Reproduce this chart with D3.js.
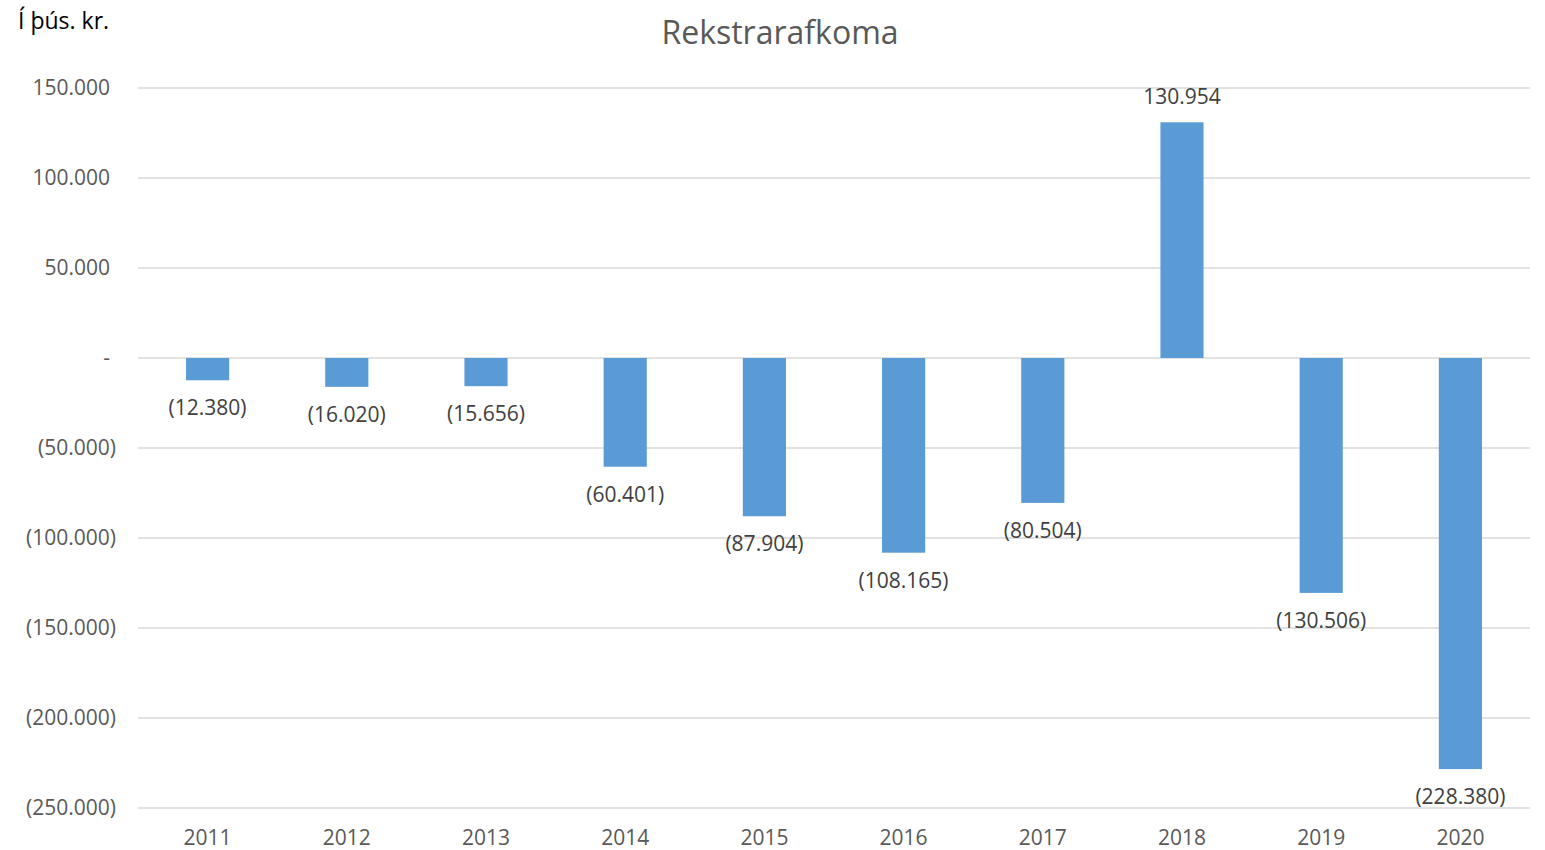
<!DOCTYPE html>
<html>
<head>
<meta charset="utf-8">
<script src="https://cdn.jsdelivr.net/npm/d3@7"></script>
<style>
  body { margin: 0; background: #fff; }
  svg text { font-family: "Open Sans", "Liberation Sans", sans-serif; }
</style>
</head>
<body>
<svg id="chart" width="1545" height="850"></svg>
<script>
const years = ["2011", "2012", "2013", "2014", "2015", "2016", "2017", "2018", "2019", "2020"];
const values = [-12380, -16020, -15656, -60401, -87904, -108165, -80504, 130954, -130506, -228380];
const yTicks = [150000, 100000, 50000, 0, -50000, -100000, -150000, -200000, -250000];

const svg = d3.select("#chart");
const margin = { top: 88, right: 15, bottom: 42, left: 138 };
const width = +svg.attr("width") - margin.left - margin.right;
const height = +svg.attr("height") - margin.top - margin.bottom;

// Icelandic number format: dot as thousands separator, negatives in parentheses
const locale = d3.formatLocale({ decimal: ",", thousands: ".", grouping: [3], currency: ["", ""] });
const fmtNum = locale.format(",.0f");
const fmt = v => v === 0 ? "-" : v < 0 ? `(${fmtNum(-v)})` : fmtNum(v);

const x = d3.scaleBand().domain(years).range([0, width]).paddingInner(0.69).paddingOuter(0.345);
const y = d3.scaleLinear().domain([-250000, 150000]).range([height, 0]);

const g = svg.append("g").attr("transform", `translate(${margin.left},${margin.top})`);

// gridlines
g.append("g")
  .selectAll("line")
  .data(yTicks)
  .join("line")
  .attr("x1", 0).attr("x2", width)
  .attr("y1", d => y(d)).attr("y2", d => y(d))
  .attr("stroke", "#d9d9d9").attr("stroke-width", 1.3);

// y axis labels
const yAxis = g.append("g")
  .attr("transform", "translate(-22,0)")
  .call(d3.axisLeft(y).tickValues(yTicks).tickFormat(fmt).tickSize(0).tickPadding(0));
yAxis.select(".domain").remove();
yAxis.selectAll("text")
  .attr("fill", "#595959").attr("font-size", 21)
  .attr("dx", d => d < 0 ? 0 : -6)
  .attr("dy", "0.32em");

// x axis labels
const xAxis = g.append("g")
  .attr("transform", `translate(0,${height})`)
  .call(d3.axisBottom(x).tickSize(0).tickPadding(22));
xAxis.select(".domain").remove();
xAxis.selectAll("text").attr("fill", "#595959").attr("font-size", 21);

// bars
g.selectAll("rect.bar")
  .data(values)
  .join("rect")
  .attr("class", "bar")
  .attr("x", (d, i) => x(years[i]))
  .attr("width", x.bandwidth())
  .attr("y", d => y(Math.max(0, d)))
  .attr("height", d => Math.abs(y(d) - y(0)))
  .attr("fill", "#5b9bd5");

// value labels
g.selectAll("text.lbl")
  .data(values)
  .join("text")
  .attr("class", "lbl")
  .attr("x", (d, i) => x(years[i]) + x.bandwidth() / 2)
  .attr("y", d => d < 0 ? y(d) + 35 : y(d) - 18)
  .attr("text-anchor", "middle")
  .attr("fill", "#404040").attr("font-size", 21)
  .text(fmt);

// title
svg.append("text")
  .attr("x", 780).attr("y", 44)
  .attr("text-anchor", "middle")
  .attr("fill", "#595959").attr("font-size", 32)
  .text("Rekstrarafkoma");

// unit label
svg.append("text")
  .attr("x", 18).attr("y", 29)
  .attr("fill", "#000").attr("font-size", 23)
  .text("Í þús. kr.");
</script>
</body>
</html>
